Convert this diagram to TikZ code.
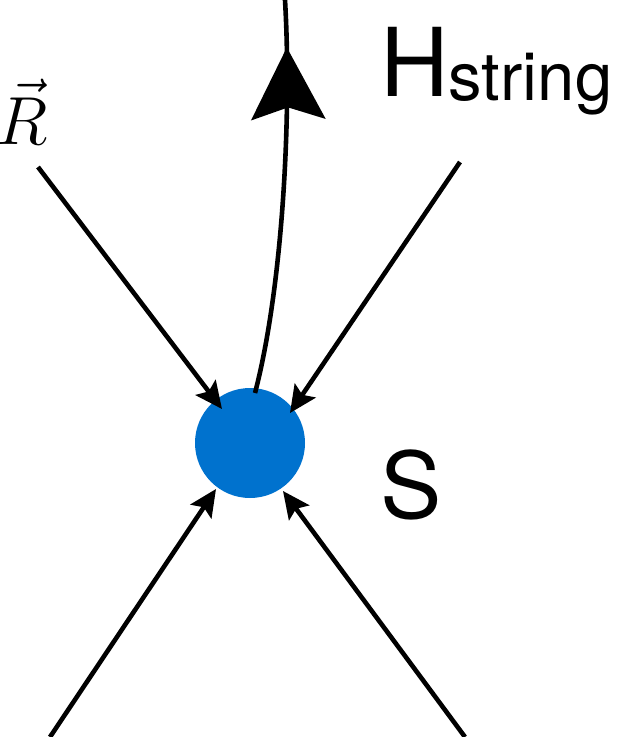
\RequirePackage{fix-cm}
\documentclass[tikz,border=0pt]{standalone}
\usepackage{fontspec}
\newfontfamily\hfont{TeX Gyre Heros}
\usetikzlibrary{arrows.meta,decorations.markings}
\definecolor{dotblue}{RGB}{0,114,206}
\begin{document}
\begin{tikzpicture}[x=1pt,y=-1pt,
  conn/.style={line width=4.6pt,-{Stealth[length=27pt,width=25pt,inset=5pt]}},
  bigconn/.style={line width=4.6pt,postaction={decorate},
    decoration={markings,mark=at position 0.88 with {\arrow{Stealth[length=72pt,width=74pt,inset=12pt]}}}}]
\useasboundingbox (0,0) rectangle (629,737);
\node[circle,fill=dotblue,minimum size=110pt,inner sep=0pt] (s) at (250,443) {};
\coordinate (a1) at (38,167);
\coordinate (a2) at (460,162);
\coordinate (a3) at (50,737);
\coordinate (a4) at (465,737);
\coordinate (top) at (285,0);
\coordinate (tipstart) at (255,393);
\draw[conn] (a1) -- (222,409);
\draw[conn] (a2) -- (290,413);
\draw[conn] (a3) -- (216,489);
\draw[conn] (a4) -- (283,491);
\draw[bigconn] (tipstart) .. controls (282,290) and (292,120) .. (top);
\node[anchor=center,font=\fontsize{68}{80}\selectfont] (r) at (22,112) {$\vec{R}$};
\node[anchor=base west,inner sep=0pt,font=\hfont\fontsize{95}{110}\selectfont] (h) at (380,96) {H\raisebox{-4pt}{\fontsize{67}{75}\selectfont string}};
\node[anchor=base west,inner sep=0pt,font=\hfont\fontsize{92}{100}\selectfont] (S) at (380,518) {S};
\end{tikzpicture}
\end{document}
